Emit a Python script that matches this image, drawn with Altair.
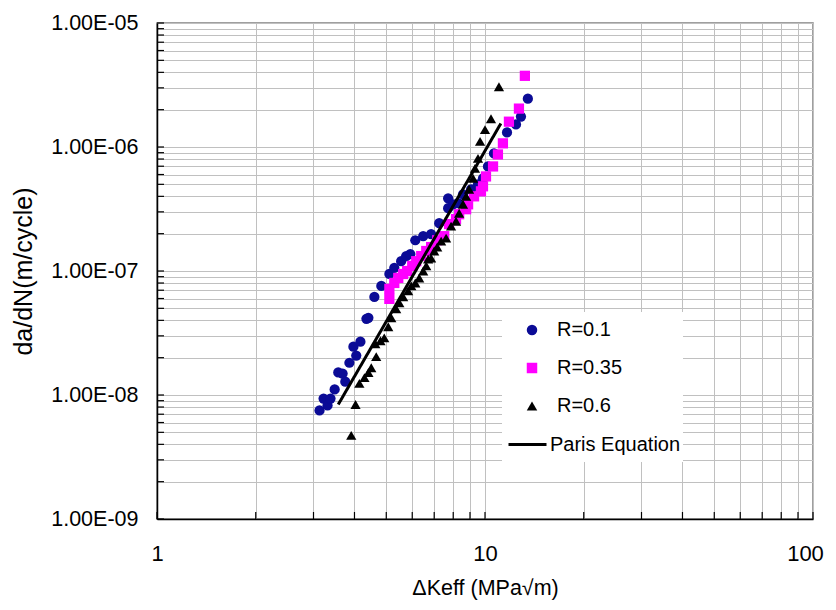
import altair as alt
import pandas as pd

# ---- data ----
series_names = ["R=0.1", "R=0.35", "R=0.6"]
series_colors = ["#0b0b96", "#ff00ff", "#000000"]
series_shapes = ["circle", "square", "triangle-up"]
fit_name = ["Paris Equation"]

r01_k = [3.13, 3.22, 3.31, 3.38, 3.48, 3.57, 3.68, 3.75, 3.86, 3.97,
         4.05, 4.17, 4.35, 4.41, 4.60, 4.83, 5.11, 5.29, 5.55, 5.75,
         5.92, 6.13, 6.48, 6.85, 7.25, 7.72, 7.72, 7.99, 8.28, 8.57,
         9.07, 9.52, 9.86, 10.21, 10.65, 11.67, 12.43, 12.87, 13.51]
r01_rate = [7.51e-9, 9.37e-9, 8.23e-9, 9.37e-9, 1.11e-8, 1.52e-8, 1.49e-8, 1.28e-8, 1.82e-8, 2.45e-8,
            2.08e-8, 2.69e-8, 4.12e-8, 4.19e-8, 6.18e-8, 7.58e-8, 9.46e-8, 1.06e-7, 1.20e-7, 1.32e-7,
            1.37e-7, 1.77e-7, 1.91e-7, 1.98e-7, 2.43e-7, 3.21e-7, 3.86e-7, 3.45e-7, 3.52e-7, 4.15e-7,
            4.56e-7, 5.0e-7, 5.58e-7, 6.97e-7, 8.87e-7, 1.31e-6, 1.52e-6, 1.76e-6, 2.45e-6]

r035_k = [5.11, 5.11, 5.29, 5.44, 5.63, 5.79, 6.00, 6.17, 6.39, 6.62,
          6.85, 7.15, 7.51, 7.77, 8.16, 8.34, 8.76, 8.88, 9.26, 9.72,
          9.86, 10.07, 10.58, 10.95, 11.34, 11.83, 12.69, 13.23]
r035_rate = [5.96e-8, 7.17e-8, 8.01e-8, 8.79e-8, 9.46e-8, 1.0e-7, 1.10e-7, 1.20e-7, 1.32e-7, 1.45e-7,
             1.56e-7, 1.77e-7, 1.91e-7, 2.39e-7, 2.62e-7, 2.87e-7, 3.15e-7, 3.45e-7, 4.0e-7, 4.39e-7,
             4.82e-7, 5.79e-7, 6.97e-7, 8.71e-7, 1.07e-6, 1.60e-6, 2.04e-6, 3.75e-6]

r06_k = [3.91, 4.03, 4.14, 4.29, 4.41, 4.50, 4.66, 4.63, 4.80, 4.93,
         5.07, 5.18, 5.36, 5.48, 5.63, 5.83, 5.96, 6.13, 6.30, 6.48,
         6.62, 6.71, 6.85, 7.00, 7.15, 7.35, 7.61, 7.88, 8.16, 8.34,
         8.57, 8.76, 8.94, 9.20, 9.32, 9.52, 9.66, 10.0, 10.43, 11.03]
r06_rate = [4.73e-9, 8.39e-9, 1.24e-8, 1.38e-8, 1.52e-8, 1.66e-8, 2.04e-8, 2.59e-8, 2.74e-8, 2.89e-8,
            3.55e-8, 4.19e-8, 4.95e-8, 5.53e-8, 6.18e-8, 6.91e-8, 7.58e-8, 8.01e-8, 8.79e-8, 1.0e-7,
            1.10e-7, 1.25e-7, 1.27e-7, 1.45e-7, 1.56e-7, 1.74e-7, 1.84e-7, 2.30e-7, 2.52e-7, 2.92e-7,
            3.45e-7, 4.0e-7, 4.56e-7, 5.58e-7, 6.72e-7, 8.09e-7, 1.11e-6, 1.38e-6, 1.69e-6, 3.06e-6]

paris_k = [3.57, 11.18]
paris_rate = [8.39e-9, 1.55e-6]

x_decades = [1, 10]
y_decades = [1e-9, 1e-8, 1e-7, 1e-6]
mantissas = [1, 2, 3, 4, 5, 6, 7, 8, 9]
x_ticks = [m * d for d in x_decades for m in mantissas] + [100]
y_ticks = [m * d for d in y_decades for m in mantissas] + [1e-5]

# ---- tables ----
pts = pd.concat([
    pd.DataFrame({"K": r01_k, "rate": r01_rate, "series": series_names[0]}),
    pd.DataFrame({"K": r035_k, "rate": r035_rate, "series": series_names[1]}),
    pd.DataFrame({"K": r06_k, "rate": r06_rate, "series": series_names[2]}),
], ignore_index=True)
paris = pd.DataFrame({"K": paris_k, "rate": paris_rate, "fit": fit_name[0]})
yt = pd.DataFrame({"v": y_ticks})
xt = pd.DataFrame({"v": x_ticks})

FONT = "Liberation Sans"
W, H = 656, 496

xscale = alt.Scale(type="log", domain=[1, 100], nice=False)
yscale = alt.Scale(type="log", domain=[1e-9, 1e-5], nice=False)
cscale = alt.Scale(domain=series_names, range=series_colors)
sscale = alt.Scale(domain=series_names, range=series_shapes)

is_dec = "abs(log(datum.value)/LN10 - round(log(datum.value)/LN10)) < 1e-6"

xaxis = alt.Axis(
    values=x_ticks, labelExpr=f"{is_dec} ? format(datum.value, 'd') : ''",
    title="ΔKeff (MPa√m)", titleFont=FONT, titleFontSize=21.5, titleFontWeight="normal",
    titleColor="black", titleY=69, titleBaseline="middle",
    labelFont=FONT, labelFontSize=22, labelColor="black", labelPadding=24,
    labelOffset={"condition": {"test": "datum.value >= 99", "value": -8}, "value": 0},
    labelOverlap=False, labelFlush=False, ticks=False, tickSize=0,
    domainColor="black", domainWidth=1.5, grid=True, gridColor="#c0c0c0", gridWidth=1,
)
yaxis = alt.Axis(
    values=y_ticks, labelExpr=f"{is_dec} ? '1.00E-0' + (-round(log(datum.value)/LN10)) : ''",
    title="da/dN(m/cycle)", titleFont=FONT, titleFontSize=25, titleFontWeight="normal",
    titleColor="black", titleX=-134, titleY=H / 2, titleAngle=270,
    titleAlign="center", titleBaseline="middle",
    labelFont=FONT, labelFontSize=21.5, labelColor="black", labelPadding=19,
    labelOverlap=False, labelFlush=False, labelBaseline="middle", ticks=False, tickSize=0,
    domainColor="black", domainWidth=1.5, grid=True, gridColor="#c0c0c0", gridWidth=1,
)

pts_legend = alt.Legend(
    title=None, orient="none", legendX=355, legendY=297, padding=0,
    labelFont=FONT, labelFontSize=20, labelColor="black", labelOffset=15,
    symbolSize=110, rowPadding=18, symbolOffset=10, symbolStrokeWidth=0,
)
fit_legend = alt.Legend(
    title=None, orient="none", legendX=350, legendY=401, padding=0,
    labelFont=FONT, labelFontSize=20, labelColor="black", labelOffset=2,
    symbolType="stroke", symbolSize=1444, symbolStrokeWidth=3,
    symbolStrokeColor="black",
)

legend_box = alt.Chart(pd.DataFrame({"box": [0]})).mark_rect(color="white").encode(
    x=alt.value(345), x2=alt.value(526), y=alt.value(289), y2=alt.value(439),
)

points = alt.Chart(pts).mark_point(filled=True, size=105, opacity=1).encode(
    x=alt.X("K:Q", scale=xscale, axis=xaxis),
    y=alt.Y("rate:Q", scale=yscale, axis=yaxis),
    color=alt.Color("series:N", scale=cscale, legend=pts_legend, sort=series_names),
    shape=alt.Shape("series:N", scale=sscale, legend=pts_legend, sort=series_names),
)

line = alt.Chart(paris).mark_line(strokeWidth=3, color="black").encode(
    x=alt.X("K:Q", scale=xscale),
    y=alt.Y("rate:Q", scale=yscale),
    strokeDash=alt.StrokeDash("fit:N", scale=alt.Scale(domain=fit_name, range=[[1, 0]]),
                              legend=fit_legend),
)

left_ticks = alt.Chart(yt).mark_rule(color="black", strokeWidth=1.2).encode(
    y=alt.Y("v:Q", scale=yscale),
    x=alt.value(0), x2=alt.value(7),
)
bottom_ticks = alt.Chart(xt).mark_rule(color="black", strokeWidth=1.2).encode(
    x=alt.X("v:Q", scale=xscale),
    y=alt.value(H), y2=alt.value(H - 7),
)

chart = alt.layer(legend_box, points, line, left_ticks, bottom_ticks).properties(
    width=W, height=H,
    autosize=alt.AutoSizeParams(type="none"),
    padding={"left": 149, "top": 15, "right": 15, "bottom": 83},
    background="white",
).configure_view(stroke="#808080", strokeWidth=1.5)

chart.save("out.html", embed_options={"renderer": "svg", "actions": False})
